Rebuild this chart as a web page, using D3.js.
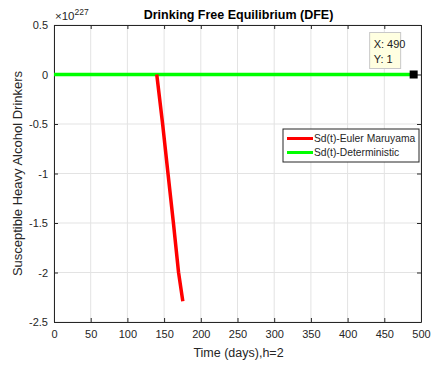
<!DOCTYPE html>
<html>
<head>
<meta charset="utf-8">
<script src="https://cdn.jsdelivr.net/npm/d3@7"></script>
<style>
  html, body { margin: 0; padding: 0; background: #fff; }
  svg { display: block; font-family: "Liberation Sans", Arial, Helvetica, sans-serif; }
</style>
</head>
<body>
<svg id="chart" width="431" height="365"></svg>
<script>
// Values in units of 1e227
const exponent = 227;
const xTicks = [0, 50, 100, 150, 200, 250, 300, 350, 400, 450, 500];
const yTicks = [0.5, 0, -0.5, -1, -1.5, -2, -2.5];

// Sd(t) Euler–Maruyama run (blows up)
const emTime = [140, 148, 155.3, 162.7, 169.7, 175.5];
const emValue = [0, -0.5, -1.0, -1.5, -2.0, -2.29];

// Sd(t) deterministic: stays at 1 (≈0 on this scale)
const detTime = [0, 490];
const detValue = [1, 1];

const dataTip = { x: 490, y: 1 };

const W = 431, H = 365;
const m = { left: 54, right: 10, top: 25, bottom: 43 };
const pw = W - m.left - m.right, ph = H - m.top - m.bottom;
const scale = Math.pow(10, exponent);

const svg = d3.select("#chart");
const g = svg.append("g").attr("transform", `translate(${m.left},${m.top})`);

const x = d3.scaleLinear().domain([0, 500]).range([0, pw]);
const y = d3.scaleLinear().domain([-2.5, 0.5]).range([ph, 0]);

const axisColor = "#262626";
const gridColor = "#e3e3e3";

// grid
g.append("g").selectAll("line").data(xTicks).join("line")
  .attr("x1", d => x(d)).attr("x2", d => x(d)).attr("y1", 0).attr("y2", ph)
  .attr("stroke", gridColor).attr("stroke-width", 1);
g.append("g").selectAll("line").data(yTicks).join("line")
  .attr("y1", d => y(d)).attr("y2", d => y(d)).attr("x1", 0).attr("x2", pw)
  .attr("stroke", gridColor).attr("stroke-width", 1);

// axes (inward ticks on all sides)
function styleAxis(sel) {
  sel.select(".domain").attr("stroke", axisColor);
  sel.selectAll(".tick line").attr("stroke", axisColor);
  sel.selectAll(".tick text").attr("fill", axisColor).attr("font-size", 11);
}
const fmtY = d => (d < 0 ? "-" : "") + Math.abs(d);
g.append("g").attr("transform", `translate(0,${ph})`)
  .call(d3.axisBottom(x).tickValues(xTicks).tickSize(-4).tickPadding(8).tickSizeOuter(0))
  .call(styleAxis);
g.append("g").call(d3.axisTop(x).tickValues(xTicks).tickSize(-4).tickFormat("").tickSizeOuter(0))
  .call(styleAxis);
g.append("g")
  .call(d3.axisLeft(y).tickValues(yTicks).tickSize(-4).tickPadding(6).tickFormat(fmtY).tickSizeOuter(0))
  .call(styleAxis);
g.append("g").attr("transform", `translate(${pw},0)`)
  .call(d3.axisRight(y).tickValues(yTicks).tickSize(-4).tickFormat("").tickSizeOuter(0))
  .call(styleAxis);

const line = d3.line().x(d => x(d[0])).y(d => y(d[1]));

// deterministic line
g.append("path")
  .datum(detTime.map((t, i) => [t, detValue[i] / scale]))
  .attr("d", line).attr("fill", "none").attr("stroke", "#00ff00").attr("stroke-width", 3.5);

// Euler–Maruyama line
g.append("path")
  .datum(emTime.map((t, i) => [t, emValue[i]]))
  .attr("d", line).attr("fill", "none").attr("stroke", "#ff0000").attr("stroke-width", 3.5)
  .attr("stroke-linejoin", "round");

// data tip marker
const tx = x(dataTip.x), ty = y(dataTip.y / scale);
g.append("rect").attr("x", tx - 4).attr("y", ty - 4).attr("width", 8).attr("height", 8)
  .attr("fill", "#000");
const tip = g.append("g").attr("transform", `translate(${tx - 44},${ty - 42})`);
tip.append("rect").attr("width", 31).attr("height", 36)
  .attr("fill", "#ffffe1").attr("stroke", "#c8c8c8").attr("stroke-width", 1);
tip.append("text").attr("x", 4).attr("y", 15).attr("font-size", 11).attr("fill", "#222")
  .text(`X: ${dataTip.x}`);
tip.append("text").attr("x", 4).attr("y", 30).attr("font-size", 11).attr("fill", "#222")
  .text(`Y: ${dataTip.y}`);

// legend
const legend = g.append("g").attr("transform", `translate(${pw - 138},${104})`);
legend.append("rect").attr("width", 136).attr("height", 33)
  .attr("fill", "#fff").attr("stroke", axisColor).attr("stroke-width", 1);
const items = [["Sd(t)-Euler Maruyama", "#ff0000"], ["Sd(t)-Deterministic", "#00ff00"]];
items.forEach((it, i) => {
  const yy = 9.5 + i * 14;
  legend.append("line").attr("x1", 4).attr("x2", 30).attr("y1", yy).attr("y2", yy)
    .attr("stroke", it[1]).attr("stroke-width", 3);
  legend.append("text").attr("x", 31).attr("y", yy + 3.5).attr("font-size", 10.3)
    .attr("fill", axisColor).text(it[0]);
});

// title
svg.append("text").attr("x", m.left + pw / 2 + 1).attr("y", 19).attr("text-anchor", "middle")
  .attr("font-size", 12.5).attr("font-weight", "bold").attr("fill", "#000")
  .text("Drinking Free Equilibrium (DFE)");

// exponent label
const ex = svg.append("text").attr("x", m.left + 1).attr("y", 20).attr("font-size", 11.5).attr("fill", axisColor);
ex.append("tspan").text("\u00d710");
ex.append("tspan").attr("font-size", 8.5).attr("dy", -5).text(exponent);

// axis titles
svg.append("text").attr("x", m.left + pw / 2 + 1).attr("y", 357).attr("text-anchor", "middle")
  .attr("font-size", 12.5).attr("fill", axisColor).text("Time (days),h=2");
svg.append("text").attr("transform", `translate(22,${m.top + ph / 2}) rotate(-90)`)
  .attr("text-anchor", "middle").attr("font-size", 13).attr("fill", axisColor)
  .text("Susceptible Heavy Alcohol Drinkers");
</script>
</body>
</html>
